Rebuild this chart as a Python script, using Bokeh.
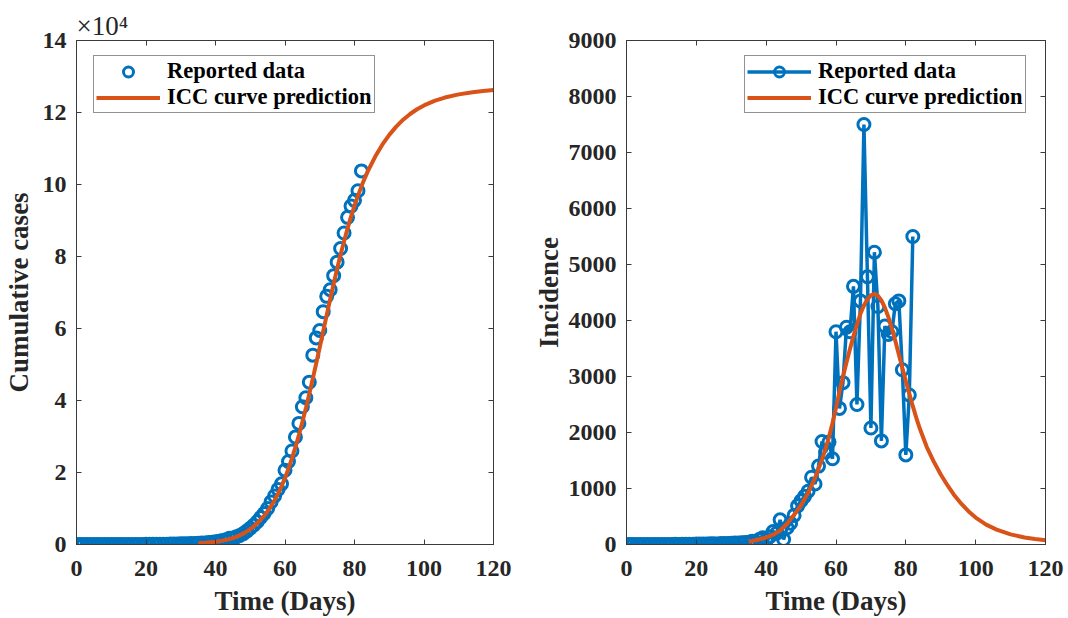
from bokeh.plotting import figure
from bokeh.layouts import row
from bokeh.models import (Range1d, LinearAxis, FixedTicker, CustomJSTickFormatter,
                          Legend, LegendItem)
from bokeh.embed import file_html
from bokeh.resources import INLINE

# ---------------- data ----------------
days = list(range(0, 83))

incidence = [0, 0, 0, 0, 0, 0, 0, 0, 0, 1,
             0, 2, 0, 1, 3, 2, 4, 3, 6, 5,
             8, 7, 10, 9, 12, 14, 11, 18, 16, 20,
             22, 25, 28, 30, 35, 40, 60, 50, 90, 120,
             80, 140, 230, 200, 440, 90, 300, 380, 520, 690,
             780, 860, 950, 1200, 1080, 1400, 1840, 1650, 1830, 1530,
             3800, 2430, 2890, 3880, 3800, 4610, 2500, 4350, 7500, 4780,
             2080, 5220, 4250, 1850, 3900, 3750, 3800, 4300, 4350, 3120,
             1600, 2670, 5500]

cumulative = [0, 0, 0, 0, 0, 0, 0, 0, 0, 1,
              1, 3, 3, 4, 7, 9, 13, 16, 22, 27,
              35, 42, 52, 61, 73, 87, 98, 116, 132, 152,
              174, 199, 227, 257, 292, 332, 392, 442, 532, 652,
              732, 872, 1102, 1302, 1742, 1832, 2132, 2512, 3032, 3722,
              4502, 5362, 6312, 7512, 8592, 9992, 11832, 13482, 15312, 16842,
              20642, 23072, 25962, 29842, 33642, 38252, 40752, 45102, 52602, 57382,
              59462, 64682, 68932, 70782, 74682, 78432, 82232, 86532, 90882, 94002,
              95602, 98272, 103772]

pred_days = [35, 37, 40, 42, 44, 46, 48, 50, 52, 54, 55, 56, 57, 58, 59, 60,
             61, 62, 63, 64, 65, 66, 67, 68, 69, 70, 71, 72, 73, 74, 75, 76,
             77, 78, 79, 80, 81, 82, 83, 84, 86, 88, 90, 92, 94, 96, 98, 100,
             103, 106, 110, 114, 117, 120]

pred_incidence = [50, 75, 125, 175, 250, 370, 530, 700, 920, 1190, 1350, 1520, 1710, 1920, 2170, 2440,
                  2730, 3000, 3250, 3490, 3720, 3930, 4120, 4270, 4380, 4450, 4475, 4445, 4360, 4230, 4060, 3860,
                  3635, 3395, 3155, 2920, 2690, 2470, 2260, 2070, 1740, 1480, 1250, 1050, 870, 720, 590, 480,
                  355, 265, 180, 125, 97, 75]

pred_cumulative = [350, 475, 775, 1075, 1500, 2120, 3020, 4250, 5870, 7980, 9250, 10690, 12300, 14120, 16160, 18470,
                   21050, 23920, 27040, 30410, 34020, 37840, 41870, 46060, 50390, 54800, 59260, 63720, 68130, 72420, 76570, 80530,
                   84270, 87790, 91060, 94100, 96910, 99490, 101850, 104020, 107830, 111050, 113780, 116080, 118000, 119590, 120900, 121970,
                   123220, 124150, 125040, 125650, 125980, 126240]

x_ticks = [0, 20, 40, 60, 80, 100, 120]
cum_ticks = [0, 20000, 40000, 60000, 80000, 100000, 120000, 140000]
inc_ticks = [0, 1000, 2000, 3000, 4000, 5000, 6000, 7000, 8000, 9000]

legend_labels = ["Reported data", "ICC curve prediction"]
exponent_text = "×10⁴"

# ---------------- styling ----------------
FONT = "Liberation Serif"
TXT = "#262626"
FRAME = "#3a3a3a"
BLUE = "#0072BD"
ORANGE = "#D95319"


def style_axis(ax, ticks, show_labels=True):
    ax.ticker = FixedTicker(ticks=ticks)
    ax.minor_tick_line_color = None
    ax.major_tick_in = 5
    ax.major_tick_out = 0
    ax.major_tick_line_color = FRAME
    ax.axis_line_color = FRAME
    ax.major_label_text_font = FONT
    ax.major_label_text_font_style = "bold"
    ax.major_label_text_color = TXT
    if show_labels:
        ax.major_label_text_font_size = "24px"
    else:
        ax.major_label_text_font_size = "1px"
        ax.major_label_standoff = 0
        ax.formatter = CustomJSTickFormatter(code="return '';")
    ax.axis_label_text_font = FONT
    ax.axis_label_text_font_style = "bold"
    ax.axis_label_text_font_size = "27px"
    ax.axis_label_text_color = TXT


def make_fig(width, yr, yticks, border_left, border_right, xlabel, ylabel):
    p = figure(width=width, height=618, x_range=Range1d(0, 120), y_range=yr,
               output_backend="svg", toolbar_location=None,
               min_border_left=border_left, min_border_right=border_right,
               min_border_top=40, min_border_bottom=73)
    p.xgrid.grid_line_color = None
    p.ygrid.grid_line_color = None
    p.outline_line_color = FRAME
    p.outline_line_width = 1
    p.background_fill_color = "white"
    p.border_fill_color = "white"
    style_axis(p.xaxis[0], x_ticks)
    style_axis(p.yaxis[0], yticks)
    p.xaxis[0].axis_label = xlabel
    p.yaxis[0].axis_label = ylabel
    p.xaxis[0].major_label_standoff = 16
    p.xaxis[0].axis_label_standoff = 7
    p.yaxis[0].major_label_standoff = 10
    p.yaxis[0].axis_label_standoff = 2
    top = LinearAxis()
    style_axis(top, x_ticks, show_labels=False)
    p.add_layout(top, "above")
    right = LinearAxis()
    style_axis(right, yticks, show_labels=False)
    p.add_layout(right, "right")
    return p


def make_legend(items, loc):
    lg = Legend(items=items, location=loc)
    lg.label_text_font = FONT
    lg.label_text_font_style = "bold"
    lg.label_text_font_size = "22.5px"
    lg.label_text_color = "black"
    lg.label_height = 25
    lg.glyph_height = 25
    lg.glyph_width = 64
    lg.label_standoff = 7
    lg.spacing = 0
    lg.padding = 2
    lg.margin = 0
    lg.border_line_color = TXT
    lg.border_line_width = 1
    lg.background_fill_color = "white"
    lg.background_fill_alpha = 1
    return lg


# ---------------- left panel: cumulative ----------------
p1 = make_fig(530, Range1d(0, 140000), cum_ticks, 76, 37, "Time (Days)", "Cumulative cases")
p1.yaxis[0].formatter = CustomJSTickFormatter(code="return (tick/10000).toFixed(0);")
p1.yaxis[0].axis_label_standoff = 6
p1.title.text = exponent_text
p1.title.text_font = FONT
p1.title.text_font_style = "normal"
p1.title.text_font_size = "27px"
p1.title.text_color = TXT
p1.title.align = "left"
p1.title.offset = 0
p1.title.standoff = 0

r1_pts = p1.scatter(days, cumulative, marker="circle", size=12, fill_color=None,
                    line_color=BLUE, line_width=3)
r1_cur = p1.line(pred_days, pred_cumulative, line_color=ORANGE, line_width=4)

p1.add_layout(make_legend([LegendItem(label=legend_labels[0], renderers=[r1_pts]),
                           LegendItem(label=legend_labels[1], renderers=[r1_cur])], (17, 431)))

# ---------------- right panel: incidence ----------------
p2 = make_fig(538, Range1d(0, 9000), inc_ticks, 96, 23, "Time (Days)", "Incidence")

r2_line = p2.line(days, incidence, line_color=BLUE, line_width=3.5)
r2_pts = p2.scatter(days, incidence, marker="circle", size=12, fill_color=None,
                    line_color=BLUE, line_width=3)
r2_cur = p2.line(pred_days, pred_incidence, line_color=ORANGE, line_width=4)

p2.add_layout(make_legend([LegendItem(label=legend_labels[0], renderers=[r2_line, r2_pts]),
                           LegendItem(label=legend_labels[1], renderers=[r2_cur])], (118, 431)))

layout = row(p1, p2, spacing=0)

with open("out.html", "w") as f:
    f.write(file_html(layout, INLINE))
